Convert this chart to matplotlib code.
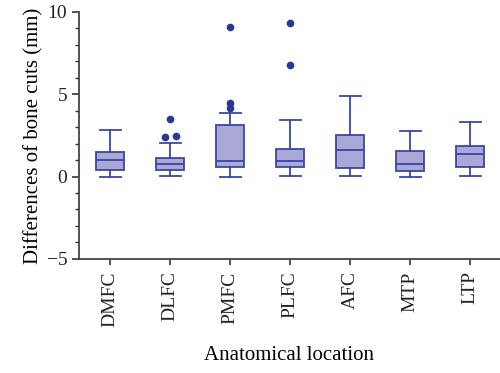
import matplotlib
matplotlib.use("Agg")
import matplotlib.pyplot as plt
from matplotlib.ticker import MultipleLocator

plt.rcParams["font.family"] = ["Liberation Serif", "DejaVu Serif"]

# ── data (mm) ─────────────────────────────────────────────────────
locations = ["DMFC", "DLFC", "PMFC", "PLFC", "AFC", "MTP", "LTP"]
whisker_low = [0.00, 0.06, 0.00, 0.06, 0.06, 0.00, 0.06]
q1 = [0.42, 0.38, 0.55, 0.61, 0.53, 0.32, 0.56]
median = [1.03, 0.77, 0.93, 0.93, 1.64, 0.75, 1.35]
q3 = [1.47, 1.11, 3.13, 1.70, 2.55, 1.56, 1.86]
whisker_high = [2.85, 2.04, 3.88, 3.41, 4.87, 2.77, 3.29]
outliers = [[], [3.51, 2.38, 2.44], [9.07, 4.44, 4.14], [9.31, 6.77], [], [], []]

EDGE = "#3a46a6"
FILL = "#a9a8d6"
DOT = "#27379a"

stats = []
for i, name in enumerate(locations):
    stats.append({
        "label": name,
        "whislo": whisker_low[i], "q1": q1[i], "med": median[i],
        "q3": q3[i], "whishi": whisker_high[i], "fliers": [],
    })

fig = plt.figure(figsize=(5.0, 3.73), dpi=100)
ax = fig.add_axes([0.158, 0.306, 0.842, 0.662])

ax.bxp(stats, positions=range(len(locations)), widths=0.47, patch_artist=True,
       boxprops=dict(facecolor=FILL, edgecolor=EDGE, linewidth=1.3),
       medianprops=dict(color=EDGE, linewidth=1.3),
       whiskerprops=dict(color=EDGE, linewidth=1.3),
       capprops=dict(color=EDGE, linewidth=1.3),
       capwidths=0.35)

# outliers: points that nearly coincide are spread sideways
for i, vals in enumerate(outliers):
    xpos = [i] * len(vals)
    for a in range(len(vals)):
        for b in range(a + 1, len(vals)):
            if abs(vals[a] - vals[b]) < 0.15:
                xpos[a] = i - 0.09
                xpos[b] = i + 0.09
    ax.plot(xpos, vals, "o", ms=4.5, color=DOT, ls="none")

ax.set_xlim(-0.52, 6.5)
ax.set_ylim(-5, 10)
ax.yaxis.set_major_locator(MultipleLocator(5))
ax.yaxis.set_minor_locator(MultipleLocator(1))
ax.set_xticks(range(len(locations)), locations, rotation=90, fontsize=14)
ax.tick_params(axis="y", labelsize=14, length=5, width=1.2, colors="#333333",
               labelcolor="#222222")
ax.tick_params(axis="y", which="minor", length=3, width=1.0, colors="#333333")
ax.tick_params(axis="x", length=4, width=1.2, colors="#333333",
               labelcolor="#222222", pad=5)
for side in ["top", "right"]:
    ax.spines[side].set_visible(False)
for side in ["left", "bottom"]:
    ax.spines[side].set_linewidth(1.3)
    ax.spines[side].set_color("#444444")

ax.set_ylabel("Differences of bone cuts (mm)", fontsize=15, labelpad=2)
ax.set_xlabel("Anatomical location", fontsize=15, labelpad=14)

fig.savefig("out.png", dpi=100)
